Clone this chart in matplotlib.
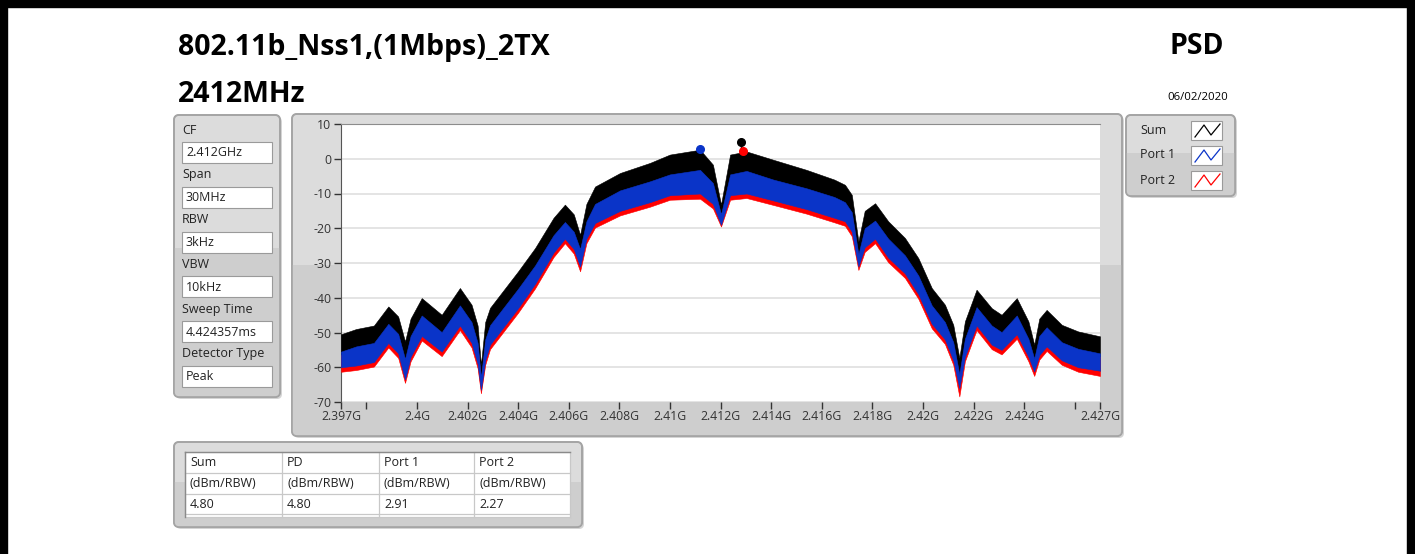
import matplotlib
matplotlib.use("Agg")
import matplotlib.pyplot as plt
from matplotlib.patches import FancyBboxPatch, Rectangle

plt.rcParams['font.family'] = ['Open Sans', 'DejaVu Sans']

# ---- data ----
title = "802.11b_Nss1,(1Mbps)_2TX"
subtitle = "2412MHz"
date_text = "06/02/2020"

param_names = ["CF", "Span", "RBW", "VBW", "Sweep Time", "Detector Type"]
param_values = ["2.412GHz", "30MHz", "3kHz", "10kHz", "4.424357ms", "Peak"]

legend_names = ["Sum", "Port 1", "Port 2"]

table_headers = ["Sum", "PD", "Port 1", "Port 2"]
table_units = ["(dBm/RBW)", "(dBm/RBW)", "(dBm/RBW)", "(dBm/RBW)"]
table_values = ["4.80", "4.80", "2.91", "2.27"]

# frequency (GHz) of the envelope knots
freq = [2.39700, 2.39760, 2.39830, 2.39887, 2.39926, 2.39953, 2.39975, 2.40019,
        2.40098, 2.40170, 2.40216, 2.40240, 2.40253, 2.40270, 2.40289, 2.40400,
        2.40467, 2.40540, 2.40585, 2.40620, 2.40645, 2.40670, 2.40704, 2.40803,
        2.40921, 2.41000, 2.41119, 2.41170, 2.41202, 2.41238, 2.41303, 2.41409,
        2.41540, 2.41650, 2.41692, 2.41719, 2.41745, 2.41770, 2.41811, 2.41863,
        2.41929, 2.41982, 2.42035, 2.42087, 2.42120, 2.42144, 2.42166, 2.42212,
        2.42272, 2.42311, 2.42371, 2.42417, 2.42440, 2.42460, 2.42489, 2.42549,
        2.42614, 2.42700]
# Sum trace, top of the noise band (dBm)
sum_hi = [-50.5, -49.0, -48.0, -42.5, -45.4, -52.6, -46.0, -40.1,
          -44.9, -37.2, -42.0, -48.0, -59.3, -47.0, -42.9, -32.4,
          -25.7, -17.0, -13.2, -16.0, -21.9, -13.0, -8.0, -4.1,
          -1.2, 1.2, 2.6, -1.7, -13.2, 1.2, 2.1, -0.3,
          -3.2, -6.0, -7.5, -10.4, -23.8, -15.0, -12.8, -18.0,
          -22.8, -28.6, -37.2, -42.0, -47.8, -57.3, -46.8, -37.7,
          -43.0, -44.9, -40.1, -46.8, -53.5, -46.0, -43.5, -47.8,
          -49.7, -51.1]
# Port 1 trace, top and bottom of the noise band
p1_hi = [-55.5, -54.0, -53.0, -47.5, -50.4, -57.6, -51.0, -45.1,
         -49.9, -42.2, -47.0, -53.0, -63.0, -52.0, -47.9, -37.4,
         -30.7, -22.0, -18.2, -21.0, -26.0, -18.0, -13.0, -9.1,
         -6.5, -4.5, -3.2, -7.0, -16.0, -4.5, -3.5, -6.0,
         -8.5, -11.0, -12.5, -15.4, -27.5, -20.0, -17.8, -23.0,
         -27.8, -33.6, -42.2, -47.0, -52.8, -62.0, -51.8, -42.7,
         -48.0, -49.9, -45.1, -51.8, -57.5, -51.0, -48.5, -52.8,
         -54.7, -56.0]
p1_lo = [-60.0, -59.5, -58.5, -53.0, -56.0, -63.5, -57.0, -51.0,
         -55.5, -48.0, -53.0, -59.0, -66.5, -58.0, -53.5, -43.0,
         -36.0, -27.0, -23.0, -26.0, -31.0, -23.0, -18.5, -15.0,
         -12.5, -10.5, -10.0, -13.0, -19.0, -10.5, -10.0, -12.0,
         -14.5, -17.0, -18.0, -21.0, -31.0, -25.5, -23.0, -28.5,
         -33.0, -39.0, -47.5, -52.0, -58.0, -66.0, -57.0, -48.0,
         -53.5, -55.0, -50.5, -57.0, -61.2, -56.5, -54.0, -58.0,
         -60.0, -61.0]
# Port 2 trace, top and bottom of the noise band
p2_hi = [-56.5, -55.0, -54.0, -48.5, -51.4, -58.6, -52.0, -46.1,
         -50.9, -43.2, -48.0, -54.0, -64.0, -53.0, -48.9, -38.4,
         -31.7, -23.0, -19.2, -22.0, -27.0, -19.0, -14.0, -10.1,
         -7.5, -5.5, -4.2, -8.0, -17.0, -5.5, -4.5, -7.0,
         -9.5, -12.0, -13.5, -16.4, -28.5, -21.0, -18.8, -24.0,
         -28.8, -34.6, -43.2, -48.0, -53.8, -63.0, -52.8, -43.7,
         -49.0, -50.9, -46.1, -52.8, -58.5, -52.0, -49.5, -53.8,
         -55.7, -57.0]
p2_lo = [-61.3, -60.8, -59.8, -54.3, -57.3, -64.5, -58.3, -52.3,
         -56.8, -49.3, -54.3, -60.3, -67.5, -59.3, -54.8, -44.3,
         -37.3, -28.3, -24.3, -27.3, -32.4, -24.3, -19.8, -16.3,
         -13.8, -11.8, -11.5, -14.3, -19.5, -11.8, -11.3, -13.3,
         -15.8, -18.3, -19.3, -22.3, -32.0, -26.8, -24.3, -29.8,
         -34.3, -40.3, -48.8, -53.3, -59.3, -68.4, -58.3, -49.3,
         -54.8, -56.3, -51.8, -58.3, -62.5, -57.8, -55.3, -59.3,
         -61.3, -62.5]

# peak markers (freq GHz, level dBm)
peak_freq = [2.41280, 2.41119, 2.41287]
peak_level = [4.80, 2.91, 2.27]

xtick_pos = [2.397, 2.398, 2.400, 2.402, 2.404, 2.406, 2.408, 2.410, 2.412,
             2.414, 2.416, 2.418, 2.420, 2.422, 2.424, 2.426, 2.427]
xtick_lab = ["2.397G", "", "2.4G", "2.402G", "2.404G", "2.406G", "2.408G", "2.41G",
             "2.412G", "2.414G", "2.416G", "2.418G", "2.42G", "2.422G", "2.424G",
             "", "2.427G"]
ytick_pos = [10, 0, -10, -20, -30, -40, -50, -60, -70]

colors = ["black", "#0a34c8", "#ff0000"]

W, H = 1415, 554
fig = plt.figure(figsize=(W / 100, H / 100), dpi=100)
fig.patch.set_facecolor("white")

# background axes in pixel coordinates
bg = fig.add_axes([0, 0, 1, 1])
bg.set_xlim(0, W)
bg.set_ylim(H, 0)
bg.axis("off")

# black page border
bg.add_patch(Rectangle((0, 0), W, 7, color="black"))
bg.add_patch(Rectangle((0, 0), 7, H, color="black"))
bg.add_patch(Rectangle((W - 8, 0), 8, H, color="black"))


def panel(x0, y0, x1, y1, split=0.47):
    sh = FancyBboxPatch((x0 + 2, y0 + 2), x1 - x0, y1 - y0,
                        boxstyle="round,pad=0,rounding_size=5",
                        fc="#b8b8b8", ec="none", alpha=0.6)
    bg.add_patch(sh)
    p = FancyBboxPatch((x0, y0), x1 - x0, y1 - y0,
                       boxstyle="round,pad=0,rounding_size=5",
                       fc="#dcdcdc", ec="#a4a4a4", lw=1.2)
    bg.add_patch(p)
    low = Rectangle((x0, y0 + (y1 - y0) * split), x1 - x0, (y1 - y0) * (1 - split),
                    fc="#cecece", ec="none")
    bg.add_patch(low)
    low.set_clip_path(p)
    edge = FancyBboxPatch((x0, y0), x1 - x0, y1 - y0,
                          boxstyle="round,pad=0,rounding_size=5",
                          fc="none", ec="#a4a4a4", lw=1.2)
    bg.add_patch(edge)


# titles
bg.text(178, 47, title, fontsize=20.5, fontweight="bold", va="center", ha="left")
bg.text(178, 94, subtitle, fontsize=20.5, fontweight="bold", va="center", ha="left")
bg.text(1224, 47, "PSD", fontsize=20.5, fontweight="bold", va="center", ha="right")
bg.text(1228, 98, date_text, fontsize=8.2, va="center", ha="right")

# parameter panel
panel(174, 115, 280, 397)
for i, (name, val) in enumerate(zip(param_names, param_values)):
    y = 130 + i * 44.8
    bg.text(182, y, name, fontsize=9, va="center", ha="left", color="#222222")
    bg.add_patch(Rectangle((182, y + 12), 90, 21, fc="white", ec="#9a9a9a", lw=0.8))
    bg.text(186, y + 23, val, fontsize=9, va="center", ha="left", color="#222222")

# graph panel
panel(292, 114, 1122, 436)

# legend panel
panel(1126, 115, 1235, 196)
for i, name in enumerate(legend_names):
    y = 130 + i * 25
    bg.text(1140, y, name, fontsize=9, va="center", ha="left", color="#222222")
    bg.add_patch(Rectangle((1191, y - 9), 31, 19, fc="white", ec="#9a9a9a", lw=0.8))
    bg.plot([1195, 1204, 1211, 1220], [y + 7, y - 5, y + 5, y - 6],
            color=colors[i], lw=0.9)

# table panel
panel(174, 442, 582, 527)
col_x = [185, 282, 379, 474, 570]
row_y = [452, 473, 494, 514, 517]
bg.add_patch(Rectangle((185, 452), 385, 65, fc="white", ec="none"))
for x in col_x:
    bg.plot([x, x], [452, 517], color="#c8c8c8", lw=0.9)
for y in row_y:
    bg.plot([185, 570], [y, y], color="#c8c8c8", lw=0.9)
bg.plot([185, 570], [452, 452], color="#8a8a8a", lw=1)
bg.plot([185, 185], [452, 517], color="#8a8a8a", lw=1)
for j in range(4):
    for k, row in enumerate([table_headers, table_units, table_values]):
        bg.text(col_x[j] + 5, (row_y[k] + row_y[k + 1]) / 2, row[j],
                fontsize=9, va="center", ha="left", color="#222222")

# plot area
ax = fig.add_axes([341 / W, (H - 402) / H, 759 / W, 278 / H])
ax.set_facecolor("white")
ax.fill_between(freq, sum_hi, p1_lo, color=colors[0], lw=0.4, zorder=3)
ax.fill_between(freq, p2_hi, p2_lo, color=colors[2], lw=0.4, zorder=4)
ax.fill_between(freq, p1_hi, p1_lo, color=colors[1], lw=0.4, zorder=5)

ax.vlines(peak_freq[0], peak_level[0], peak_level[0] - 4, color="black", lw=1, zorder=6)
for fq, lv, c in zip(peak_freq, peak_level, colors):
    ax.plot(fq, lv, "o", color=c, ms=5.5, zorder=7)

ax.set_xlim(2.397, 2.427)
ax.set_ylim(-70, 10)
ax.set_xticks(xtick_pos)
ax.set_xticklabels(xtick_lab)
ax.set_yticks(ytick_pos)
ax.set_yticklabels([str(v) for v in ytick_pos])
ax.set_xticks([2.398 + 0.002 * i for i in range(15)], minor=True)
ax.grid(True, which="minor", axis="x", color="#e2e2e2", lw=1.3, zorder=0)
ax.grid(True, which="major", axis="y", color="#e2e2e2", lw=1.3, zorder=0)
ax.tick_params(axis="x", which="minor", length=0)
ax.tick_params(axis="both", which="major", labelsize=8.8, colors="#333333",
               length=5, width=1, direction="out", pad=2)
ax.tick_params(axis="x", which="major", pad=1)
for s in ["right", "bottom"]:
    ax.spines[s].set_visible(False)
ax.spines["top"].set_color("#8c8c8c")
ax.spines["left"].set_color("#555555")
ax.set_axisbelow(True)

fig.savefig("out.png", dpi=100)
